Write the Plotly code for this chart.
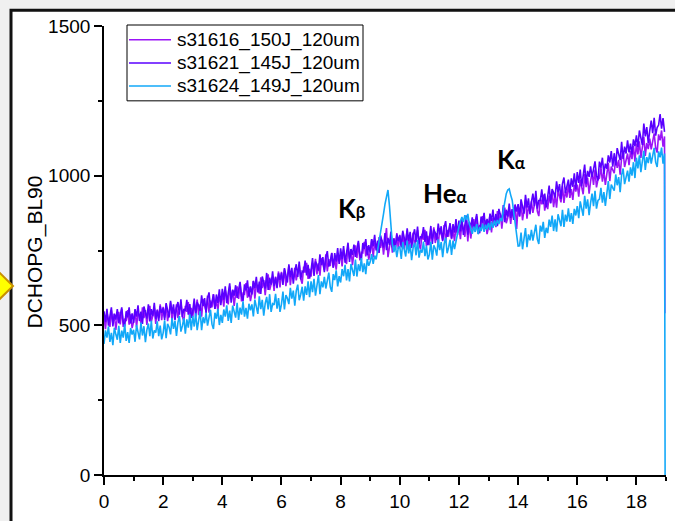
import numpy as np
import plotly.graph_objects as go

# Energy axis (keV): spectra sampled every 0.05 keV starting at 0
energy_step = 0.05

# DCHOPG_BL90 signal, one line per 1 keV (20 samples)
s31616_150J = [
    527, 487, 543, 514, 495, 550, 507, 538, 485, 526, 545, 503, 554, 495, 522, 514, 551, 502, 537, 491,
    512, 554, 494, 542, 531, 506, 560, 524, 551, 501, 544, 565, 513, 532, 558, 505, 553, 525, 570, 517,
    562, 526, 570, 514, 545, 576, 512, 555, 535, 570, 524, 548, 577, 529, 513, 565, 545, 578, 524, 558,
    527, 572, 548, 586, 534, 570, 529, 587, 565, 547, 599, 542, 583, 560, 604, 555, 584, 548, 598, 576,
    602, 562, 618, 589, 570, 630, 587, 618, 565, 606, 630, 588, 639, 580, 607, 604, 641, 592, 627, 581,
    607, 649, 589, 637, 626, 606, 660, 624, 651, 601, 649, 670, 618, 637, 663, 615, 663, 635, 680, 627,
    679, 643, 687, 631, 662, 698, 634, 677, 657, 692, 650, 674, 703, 655, 639, 696, 676, 709, 655, 689,
    663, 708, 684, 722, 670, 707, 666, 724, 702, 684, 737, 680, 721, 698, 742, 693, 722, 686, 736, 714,
    737, 697, 753, 724, 705, 766, 723, 754, 701, 742, 767, 725, 776, 717, 744, 742, 779, 730, 765, 719,
    745, 787, 727, 775, 764, 741, 795, 759, 786, 736, 780, 825, 728, 768, 794, 743, 791, 763, 808, 755,
    802, 766, 810, 754, 785, 816, 752, 795, 775, 810, 765, 789, 818, 770, 754, 806, 786, 819, 765, 799,
    768, 813, 789, 827, 775, 808, 767, 825, 803, 785, 835, 778, 819, 796, 840, 788, 817, 781, 831, 809,
    828, 788, 844, 815, 796, 855, 780, 843, 790, 831, 855, 813, 864, 805, 832, 828, 865, 816, 851, 805,
    828, 870, 810, 858, 847, 828, 882, 846, 873, 823, 872, 893, 841, 860, 886, 839, 887, 859, 904, 822,
    899, 863, 907, 851, 882, 920, 856, 899, 879, 914, 876, 900, 929, 881, 865, 924, 904, 937, 883, 917,
    888, 933, 909, 947, 895, 934, 893, 951, 929, 911, 966, 909, 950, 927, 971, 926, 955, 919, 969, 947,
    970, 930, 986, 957, 938, 1005, 962, 993, 940, 981, 1011, 969, 1020, 961, 988, 992, 1029, 980, 1015, 969,
    1000, 1042, 982, 1030, 1019, 1008, 1062, 1026, 1053, 1003, 1060, 1081, 1029, 1048, 1074, 1035, 1083, 1055, 1100, 1047,
    1107, 1071, 1115, 1059, 1090, 1130, 1066, 1109, 1089, 1124, 1088, 1112, 1141, 1093, 1077, 1138, 1118, 1151, 1097, 1131,
]

s31621_145J = [
    547, 511, 555, 499, 530, 560, 496, 539, 519, 554, 507, 531, 560, 512, 496, 547, 527, 560, 506, 540,
    508, 553, 529, 567, 515, 546, 505, 563, 541, 523, 570, 513, 554, 531, 575, 521, 550, 514, 564, 542,
    558, 518, 574, 545, 526, 582, 539, 570, 517, 558, 578, 536, 587, 528, 555, 548, 585, 536, 571, 525,
    547, 589, 529, 577, 566, 546, 600, 564, 591, 541, 589, 610, 558, 577, 603, 555, 603, 575, 620, 567,
    622, 586, 630, 574, 605, 640, 576, 619, 599, 634, 592, 616, 645, 597, 581, 637, 617, 650, 596, 630,
    603, 648, 624, 662, 610, 646, 605, 663, 641, 623, 675, 618, 659, 636, 680, 631, 660, 624, 674, 652,
    675, 635, 691, 662, 643, 704, 661, 692, 639, 680, 704, 662, 713, 654, 681, 679, 716, 667, 702, 656,
    683, 725, 665, 713, 702, 683, 737, 701, 728, 678, 727, 748, 696, 715, 741, 693, 741, 713, 758, 705,
    757, 721, 765, 709, 740, 776, 712, 755, 735, 770, 729, 753, 782, 734, 718, 775, 755, 788, 734, 768,
    743, 788, 764, 802, 750, 783, 742, 800, 778, 760, 808, 751, 792, 769, 813, 761, 790, 754, 804, 782,
    800, 760, 816, 787, 768, 824, 781, 812, 759, 800, 821, 779, 830, 771, 798, 791, 828, 779, 814, 768,
    790, 832, 772, 820, 809, 786, 840, 804, 831, 781, 827, 848, 796, 815, 841, 790, 838, 810, 855, 802,
    850, 814, 858, 802, 833, 867, 803, 846, 826, 861, 819, 843, 872, 824, 808, 863, 843, 876, 822, 856,
    828, 873, 849, 887, 835, 872, 831, 889, 867, 849, 902, 845, 886, 863, 907, 859, 888, 852, 902, 880,
    905, 865, 921, 892, 873, 936, 893, 924, 871, 912, 940, 898, 949, 890, 917, 917, 954, 905, 940, 894,
    925, 967, 907, 955, 944, 927, 981, 945, 972, 922, 973, 994, 942, 961, 987, 943, 991, 963, 1008, 955,
    1012, 976, 1020, 964, 995, 1037, 973, 1016, 996, 1031, 995, 1019, 1048, 1000, 984, 1047, 1027, 1060, 1006, 1040,
    1023, 1068, 1044, 1082, 1030, 1075, 1034, 1092, 1070, 1052, 1113, 1056, 1097, 1074, 1118, 1078, 1107, 1071, 1121, 1099,
    1135, 1095, 1151, 1122, 1103, 1174, 1131, 1162, 1109, 1150, 1184, 1142, 1193, 1134, 1161, 1169, 1206, 1157, 1192, 1146,
]

s31624_149J = [
    438, 483, 459, 497, 445, 475, 434, 492, 470, 452, 498, 441, 482, 459, 503, 448, 477, 441, 491, 469,
    485, 445, 501, 472, 453, 509, 466, 497, 444, 485, 506, 464, 515, 456, 483, 476, 513, 464, 499, 453,
    475, 517, 457, 505, 494, 470, 524, 488, 515, 465, 510, 531, 479, 498, 524, 472, 520, 492, 537, 484,
    532, 496, 540, 484, 515, 548, 484, 527, 507, 542, 499, 523, 552, 504, 488, 542, 522, 555, 501, 535,
    508, 553, 529, 567, 515, 549, 508, 566, 544, 526, 575, 518, 559, 536, 580, 529, 558, 522, 572, 550,
    570, 530, 586, 557, 538, 597, 554, 585, 532, 573, 595, 553, 604, 545, 572, 568, 605, 556, 591, 545,
    571, 613, 553, 601, 590, 571, 625, 589, 616, 566, 615, 636, 584, 603, 629, 582, 630, 602, 647, 594,
    647, 611, 655, 599, 630, 668, 604, 647, 627, 662, 623, 647, 676, 628, 612, 671, 651, 684, 630, 664,
    643, 688, 664, 702, 650, 688, 647, 705, 683, 665, 720, 663, 704, 681, 725, 678, 707, 671, 721, 699,
    712, 738, 705, 733, 720, 748, 775, 815, 842, 872, 905, 935, 952, 900, 840, 770, 745, 768, 728, 760,
    762, 722, 778, 749, 730, 783, 740, 771, 718, 759, 776, 734, 785, 726, 753, 743, 780, 731, 766, 720,
    737, 779, 719, 767, 756, 733, 787, 751, 778, 728, 772, 793, 741, 760, 786, 735, 783, 755, 785, 800,
    830, 848, 862, 845, 868, 852, 872, 840, 818, 806, 830, 812, 838, 805, 828, 815, 840, 812, 836, 820,
    842, 818, 846, 826, 850, 832, 852, 838, 858, 848, 885, 915, 940, 952, 956, 935, 918, 880, 845, 810,
    765, 766, 810, 754, 785, 825, 761, 804, 784, 819, 783, 807, 836, 788, 772, 833, 813, 846, 792, 826,
    808, 853, 829, 867, 815, 854, 813, 871, 849, 831, 886, 829, 870, 847, 891, 846, 875, 839, 889, 867,
    898, 858, 914, 885, 866, 933, 890, 921, 868, 909, 940, 898, 949, 890, 917, 922, 959, 910, 945, 899,
    940, 982, 922, 970, 959, 950, 1004, 968, 995, 945, 1003, 1024, 972, 991, 1017, 980, 1028, 1000, 1045, 992,
    1060, 1024, 1068, 1012, 1043, 1083, 1019, 1062, 1042, 1077, 1040, 1064, 1093, 1045, 1029, 1081, 1061, 1094, 1040, 1074,
]

# last recorded sample of the shots that cut off at the end of the record
s31616_tail = ([18.96], [540])
s31624_tail = ([18.97], [0])

series_names = ["s31616_150J_120um", "s31621_145J_120um", "s31624_149J_120um"]
series_colors = ["#9b14f7", "#5a00ff", "#12a8f8"]

# spectral line labels: (text, energy, signal)
line_labels = [
    ("K<span style='font-size:17px'>β</span>", 8.40, 893),
    ("He<span style='font-size:17px'>α</span>", 11.56, 942),
    ("K<span style='font-size:17px'>α</span>", 13.76, 1056),
]


def energy_axis(values):
    return list(np.round(np.arange(len(values)) * energy_step, 2))


traces_xy = [
    (energy_axis(s31616_150J) + s31616_tail[0], s31616_150J + s31616_tail[1]),
    (energy_axis(s31621_145J), s31621_145J),
    (energy_axis(s31624_149J) + s31624_tail[0], s31624_149J + s31624_tail[1]),
]

fig = go.Figure()
for (xs, ys), name, color in zip(traces_xy, series_names, series_colors):
    fig.add_trace(go.Scatter(x=xs, y=ys, mode="lines", name=name,
                             line=dict(color=color, width=1.6)))

W, H = 675, 521
ML, MR, MT, MB = 104, 9, 26, 39
PW, PH = W - ML - MR, H - MT - MB


def px_x(p):
    return (p - ML) / PW


def px_y(p):
    return (H - MB - p) / PH


arial = "Liberation Sans, Arial, sans-serif"
tick_font = dict(family=arial, size=19, color="black")

shapes = [
    # white graph page with its frame
    dict(type="rect", xref="paper", yref="paper",
         x0=px_x(11), x1=px_x(780), y0=px_y(600), y1=px_y(10),
         fillcolor="white", line=dict(color="#111111", width=3), layer="below"),
    # layer marker on the left edge
    dict(type="path", xref="paper", yref="paper",
         path=(f"M{px_x(-2)},{px_y(275)} L{px_x(13)},{px_y(290)} "
               f"L{px_x(-2)},{px_y(305)} L{px_x(-17)},{px_y(290)} Z"),
         fillcolor="#ffff00", line=dict(color="#c89000", width=2), layer="above"),
    # legend frame
    dict(type="rect", xref="paper", yref="paper",
         x0=px_x(127), x1=px_x(363), y0=px_y(102), y1=px_y(25),
         fillcolor="white", line=dict(color="black", width=1), layer="above"),
]

annotations = [
    dict(text="DCHOPG_BL90", xref="paper", yref="paper", x=px_x(35), y=px_y(256),
         textangle=-90, showarrow=False, xanchor="center", yanchor="middle",
         font=dict(family=arial, size=21, color="black")),
]

# legend entries: sample line + label
for i, (name, color) in enumerate(zip(series_names, series_colors)):
    row_y = 40 + i * 23.5
    shapes.append(dict(type="line", xref="paper", yref="paper",
                       x0=px_x(129), x1=px_x(171), y0=px_y(row_y), y1=px_y(row_y),
                       line=dict(color=color, width=1.5), layer="above"))
    annotations.append(dict(text=name, xref="paper", yref="paper",
                            x=px_x(175), y=px_y(row_y), xanchor="left", yanchor="middle",
                            showarrow=False, font=dict(family=arial, size=19, color="black")))

for text, ex, sig in line_labels:
    annotations.append(dict(text=f"<b>{text}</b>", x=ex, y=sig, xref="x", yref="y",
                            showarrow=False,
                            font=dict(family="Lato, Open Sans, sans-serif", size=26, color="black")))

fig.update_layout(
    width=W, height=H,
    margin=dict(l=ML, r=MR, t=MT, b=MB, pad=0),
    paper_bgcolor="#f0f0f0",
    plot_bgcolor="rgba(0,0,0,0)",
    showlegend=False,
    xaxis=dict(range=[0, 19], showgrid=False, zeroline=False,
               showline=True, linecolor="black", linewidth=1.6,
               ticks="outside", ticklen=8, tickwidth=1.6, tickcolor="black",
               dtick=2, tick0=0, tickfont=tick_font,
               minor=dict(dtick=1, ticks="outside", ticklen=4, tickwidth=1.6, tickcolor="black")),
    yaxis=dict(range=[0, 1500], showgrid=False, zeroline=False,
               showline=True, linecolor="black", linewidth=1.6,
               ticks="outside", ticklen=8, tickwidth=1.6, tickcolor="black",
               dtick=500, tick0=0, tickfont=tick_font,
               minor=dict(dtick=250, ticks="outside", ticklen=4, tickwidth=1.6, tickcolor="black")),
    shapes=shapes,
    annotations=annotations,
)

fig.write_html("out.html")
